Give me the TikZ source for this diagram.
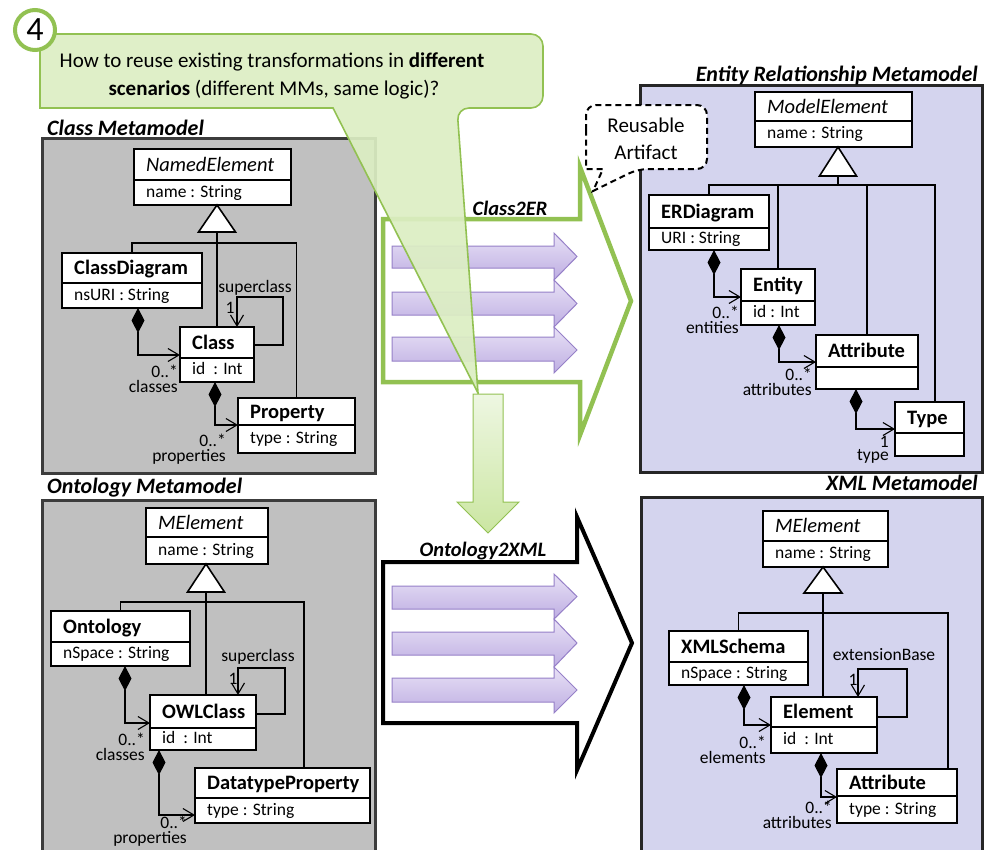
\documentclass[tikz,border=0pt]{standalone}
\usepackage{fontspec}
\setmainfont{Carlito}
\usetikzlibrary{arrows.meta}
\definecolor{grpanel}{RGB}{192,192,192}
\definecolor{grborder}{RGB}{60,60,60}
\definecolor{lavpanel}{RGB}{212,212,238}
\definecolor{gline}{RGB}{146,193,82}
\definecolor{gfill}{RGB}{220,238,195}
\definecolor{gfilltop}{RGB}{238,247,226}
\definecolor{gfillbot}{RGB}{203,230,162}
\definecolor{pfilltop}{RGB}{232,225,246}
\definecolor{pfillbot}{RGB}{190,174,226}
\definecolor{pline}{RGB}{150,128,200}
\tikzset{
  umlbox/.style={draw=black, line width=2.4pt, fill=white, anchor=north west, inner sep=0pt, outer sep=0pt},
  divider/.style={line width=2pt},
  cname/.style={font=\fontsize{20.5}{24}\selectfont, inner sep=0pt, anchor=base west},
  cattr/.style={font=\fontsize{17.5}{21}\selectfont, inner sep=0pt, anchor=base west},
  lbl/.style={font=\fontsize{17.5}{20}\selectfont, inner sep=0pt, anchor=base},
  role/.style={font=\fontsize{17.5}{15}\selectfont, inner sep=0pt, align=right, anchor=base east},
  mmtitle/.style={font=\fontsize{22}{26}\selectfont\bfseries\itshape, inner sep=0pt},
  trlabel/.style={font=\fontsize{20.5}{24}\selectfont\bfseries\itshape, inner sep=0pt},
  qtext/.style={font=\fontsize{21}{28}\selectfont, inner sep=0pt},
  panelA/.style={draw=grborder, line width=3pt, fill=grpanel},
  panelB/.style={draw=black!85, line width=3pt, fill=lavpanel},
  tri/.style={draw=black, line width=1.6pt, fill=white, line join=miter},
  gen/.style={line width=1.1pt},
  comp/.style={line width=1.1pt, {Diamond[length=25pt,width=13pt]}-{Straight Barb[length=11pt,width=13pt]}},
  assoc/.style={line width=1.1pt, -{Straight Barb[length=11pt,width=13pt]}},
  bigG/.style={draw=gline, line width=4.5pt, fill=white, line join=miter},
  bigK/.style={draw=black, line width=4pt, fill=white, line join=miter},
  parr/.style={draw=pline, line width=1pt, top color=pfilltop, bottom color=pfillbot},
  callout/.style={draw=gline, line width=1.6pt, fill=gfill},
  downarr/.style={draw=gline, line width=1pt, top color=gfilltop, bottom color=gfillbot},
  dashcall/.style={draw=black, line width=2pt, dash pattern=on 6pt off 4pt, fill=white},
  numcirc/.style={circle, draw=gline, line width=4pt, fill=white, minimum size=40pt, inner sep=0pt, font=\fontsize{34}{34}\selectfont}
}
% #1 name, #2 x1, #3 y1, #4 x2, #5 ydiv, #6 y2, #7 title, #8 attribute
\newcommand{\umlcls}[8]{%
  \node[umlbox, minimum width={#4-#2}, minimum height={#6-#3}] (#1) at (#2,#3) {};
  \draw[divider] (#1.west |- 0,#5) -- (#1.east |- 0,#5);
  \node[cname] (#1-t) at ({#2+12},{(#3+#5)/2+6.5}) {#7};
  \node[cattr] (#1-a) at ({#2+12},{(#5+#6)/2+4.8}) {#8};
}
% shaft y1, shaft y2, head y1, head y2
\newcommand{\purparrow}[4]{%
  \draw[parr] (392,#1) -- (554,#1) -- (554,#3) -- (577,{(#3+#4)/2}) -- (554,#4) -- (554,#2) -- (392,#2) -- cycle;
}
\begin{document}
\begin{tikzpicture}[x=1pt,y=-1pt]
\useasboundingbox (0,0) rectangle (987,849);

% ---------------- panels ----------------
\draw[panelA] (42,138) rectangle (375,473);
\node[mmtitle, anchor=base west] (t-class) at (47,135) {Class Metamodel};
\draw[panelA] (42,500) rectangle (375,862);
\node[mmtitle, anchor=base west] (t-onto) at (47,493) {Ontology Metamodel};
\draw[panelB] (640,85) rectangle (982,472);
\node[mmtitle, anchor=base east] (t-er) at (978,81) {Entity Relationship Metamodel};
\draw[panelB] (641,497) rectangle (982,862);
\node[mmtitle, anchor=base east] (t-xml) at (978,490) {XML Metamodel};

% ---------------- Class metamodel ----------------
\umlcls{ne}{134}{149}{291}{180}{205}{\textit{NamedElement}}{name : String}
\umlcls{cd}{62}{253}{202}{283}{308}{\textbf{ClassDiagram}}{nsURI : String}
\umlcls{cl}{180}{327}{254}{358}{382}{\textbf{Class}}{id\ \ : Int}
\umlcls{pr}{238}{398}{355}{425}{453}{\textbf{Property}}{type : String}
\coordinate (cm-j) at (217,243);
\coordinate (cm-b) at (217,232);
\draw[gen] (cd.north) |- (cm-j) -| (pr.north);
\draw[gen] (cm-b) -- (cl.north);
\draw[tri] (ne.south -| 217,0) -- (235.5,232) -- (198.5,232) -- cycle;
\draw[assoc] (cl.east |- 0,345) -- (283,345) |- (237,297) -- (cl.north -| 237,0);
\draw[comp] (cd.south -| 138,0) |- (cl.west |- 0,355);
\draw[comp] (cl.south -| 215,0) |- (pr.west |- 0,425);
\node[lbl] (cm-sc) at (255,292) {superclass};
\node[lbl] (cm-1) at (230,313) {1};
\node[role] (cm-r1) at (178,392) {0..*\\classes};
\node[role] (cm-r2) at (226,461) {0..*\\properties};

% ---------------- Ontology metamodel ----------------
\umlcls{me}{146}{508}{268}{537}{564}{\textit{MElement}}{name : String}
\umlcls{on}{51}{611}{190}{642}{666}{\textbf{Ontology}}{nSpace : String}
\umlcls{ow}{150}{695}{256}{728}{750}{\textbf{OWLClass}}{id\ \ : Int}
\umlcls{dp}{195}{768}{370}{798}{823}{\textbf{DatatypeProperty}}{type : String}
\coordinate (om-j) at (206,602);
\coordinate (om-b) at (206,592);
\draw[gen] (on.north) |- (om-j) -| (dp.north -| 304,0);
\draw[gen] (om-b) -- (ow.north -| om-b);
\draw[tri] (me.south -| 206,0) -- (224.5,592) -- (187.5,592) -- cycle;
\draw[assoc] (ow.east |- 0,714) -- (285,714) |- (238,668) -- (ow.north -| 238,0);
\draw[comp] (on.south -| 125,0) |- (ow.west |- 0,723);
\draw[comp] (ow.south -| 159,0) |- (dp.west |- 0,815);
\node[lbl] (om-sc) at (258,661) {superclass};
\node[lbl] (om-1) at (233,684) {1};
\node[role] (om-r1) at (145,760) {0..*\\classes};
\node[role] (om-r2) at (187,843) {0..*\\properties};

% ---------------- ER metamodel ----------------
\umlcls{mo}{755}{92}{912}{121}{147}{\textit{ModelElement}}{name : String}
\umlcls{erd}{649}{195}{769}{228}{250}{\textbf{ERDiagram}}{URI : String}
\umlcls{en}{741}{269}{815}{301}{325}{\textbf{Entity}}{id : Int}
\umlcls{at}{816}{335}{918}{367}{389}{\textbf{Attribute}}{}
\umlcls{ty}{895}{402}{964}{433}{456}{\textbf{Type}}{}
\coordinate (er-j) at (838,185);
\coordinate (er-b) at (838,176);
\draw[gen] (erd.north) |- (er-j) -| (ty.north -| 935,0);
\draw[gen] (er-b) -- (er-j);
\draw[gen] (en.north) -- (en.north |- er-j);
\draw[gen] (at.north) -- (at.north |- er-j);
\draw[tri] (mo.south -| 838,0) -- (856.5,176) -- (819.5,176) -- cycle;
\draw[comp] (erd.south -| 714,0) |- (en.west |- 0,297);
\draw[comp] (en.south -| 779,0) |- (at.west |- 0,362);
\draw[comp] (at.south -| 856,0) |- (ty.west |- 0,429);
\node[role] (er-r1) at (739,333) {0..*\\entities};
\node[role] (er-r2) at (812,395) {0..*\\attributes};
\node[role, font=\fontsize{17.5}{13.5}\selectfont] (er-r3) at (889,460.5) {1\\type};

% ---------------- XML metamodel ----------------
\umlcls{xm}{763}{511}{888}{541}{567}{\textit{MElement}}{name : String}
\umlcls{xs}{669}{631}{808}{662}{685}{\textbf{XMLSchema}}{nSpace : String}
\umlcls{el}{771}{697}{877}{727}{753}{\textbf{Element}}{id\ \ : Int}
\umlcls{xa}{837}{769}{957}{796}{823}{\textbf{Attribute}}{type : String}
\coordinate (xm-j) at (823,613);
\coordinate (xm-b) at (823,593);
\draw[gen] (xs.north) |- (xm-j) -| (xa.north -| 948,0);
\draw[gen] (xm-b) -- (el.north -| xm-b);
\draw[tri] (xm.south -| 823,0) -- (842,593) -- (804,593) -- cycle;
\draw[assoc] (el.east |- 0,717) -- (907,717) |- (858,669) -- (el.north -| 858,0);
\draw[comp] (xs.south -| 744,0) |- (el.west |- 0,725);
\draw[comp] (el.south -| 821,0) |- (xa.west |- 0,797);
\node[lbl] (xm-eb) at (884,660) {extensionBase};
\node[lbl] (xm-1) at (853,685) {1};
\node[role] (xm-r1) at (766,763) {0..*\\elements};
\node[role] (xm-r2) at (832,828) {0..*\\attributes};

% ---------------- transformation arrows ----------------
\draw[bigG] (383,219) -- (580,219) -- (580,167) -- (631,301) -- (580,435) -- (580,382) -- (383,382) -- cycle;
\node[trlabel, anchor=base] (t-c2er) at (510,215) {Class2ER};
\purparrow{246}{268}{233}{280}
\purparrow{292}{315}{280}{327}
\purparrow{337}{361}{327}{373}

\draw[bigK] (383,562) -- (577,562) -- (577,517) -- (632,643) -- (577,770) -- (577,723) -- (383,723) -- cycle;
\node[trlabel, anchor=base] (t-o2x) at (483,556) {Ontology2XML};
\purparrow{586}{609}{574}{619}
\purparrow{632}{655}{619}{667}
\purparrow{678}{702}{667}{713}

% ---------------- question callout ----------------
\draw[callout, fill opacity=0.92] (40,70) [rounded corners=12pt] -- (40,34) -- (543,34) -- (543,108) -- (457,108) [sharp corners] -- (478,393) -- (333,108) -- (40,108) [rounded corners=12pt] -- cycle;
\node[qtext, anchor=base] (q1) at (272,67) {How to reuse existing transformations in \textbf{different}};
\node[qtext, anchor=base] (q2) at (274,95) {\textbf{scenarios} (different MMs, same logic)?};
\node[numcirc] (num) at (35,30) {4};

% down arrow
\draw[downarr] (473,394) -- (503,394) -- (503,502) -- (519,502) -- (488,533) -- (457,502) -- (473,502) -- cycle;

% reusable artifact callout
\draw[dashcall] (586,140) [rounded corners=10pt] -- (586,105) -- (707,105) -- (707,169) -- (638,169) [sharp corners] -- (593,191) -- (603,169) -- (586,169) [rounded corners=10pt] -- cycle;
\node[qtext] (ra1) at (646,125) {Reusable};
\node[qtext] (ra2) at (646,152) {Artifact};
\end{tikzpicture}
\end{document}
